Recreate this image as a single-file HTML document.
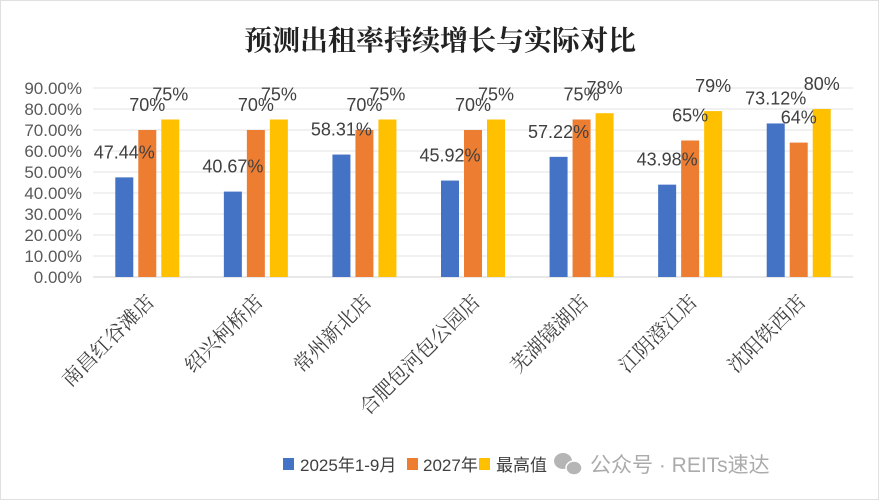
<!DOCTYPE html>
<html><head><meta charset="utf-8"><style>
body{margin:0;background:#fff;}
svg{display:block;font-family:"Liberation Sans","Noto Sans CJK SC",sans-serif;}
</style></head><body>
<svg id="c" width="879" height="500" viewBox="0 0 879 500">
<rect x="0.5" y="0.5" width="878" height="499" fill="#fff" stroke="#e0e0e0"/>
<text x="440" y="50" text-anchor="middle" font-size="28" font-weight="bold" fill="#222" style="font-family:'Noto Serif CJK SC','Noto Sans CJK SC',serif">预测出租率持续增长与实际对比</text>
<g id="grid"></g><g id="bars"></g><g id="labels"></g>
<g font-size="17" fill="#404040">
<rect x="283" y="458" width="11" height="12" fill="#4472c4"/>
<text x="300" y="471">2025年1-9月</text>
<rect x="407" y="458" width="11" height="12" fill="#ed7d31"/>
<text x="423" y="471">2027年</text>
<rect x="479" y="458" width="11" height="12" fill="#ffc000"/>
<text x="496" y="471">最高值</text>
</g>
<g>
<ellipse cx="563" cy="461" rx="9" ry="8" fill="#b5b5b5"/>
<ellipse cx="574" cy="468" rx="8" ry="7" fill="#b5b5b5" stroke="#fff" stroke-width="1.5"/>
<text x="590" y="472" font-size="21" fill="#ababab">公众号 · REITs速达</text>
</g>
</svg>
<script>
const categories=["南昌红谷滩店","绍兴柯桥店","常州新北店","合肥包河包公园店","芜湖镜湖店","江阴澄江店","沈阳铁西店"];
const actual2025=[47.44,40.67,58.31,45.92,57.22,43.98,73.12];
const forecast2027=[70,70,70,70,75,65,64];
const maxValue=[75,75,75,75,78,79,80];
const ticks=[0,10,20,30,40,50,60,70,80,90];
const NS="http://www.w3.org/2000/svg";
const left=93,right=853,y0=277,y90=88;
const yS=v=>y0-(v/90)*(y0-y90);
const gw=(right-left)/categories.length;
const xC=i=>left+gw*(i+0.5);
function mk(tag,attrs,parent,txt){const e=document.createElementNS(NS,tag);for(const k in attrs)e.setAttribute(k,attrs[k]);if(txt!==undefined)e.textContent=txt;parent.appendChild(e);return e;}
const grid=document.getElementById('grid'),bars=document.getElementById('bars'),labels=document.getElementById('labels');
ticks.forEach(t=>{
  const l=mk('line',{x1:left,x2:right,y1:yS(t),y2:yS(t),stroke:t===0?'#d0d0d0':'#e3e3e3','stroke-width':1},grid);
  
  
  const tx=mk('text',{x:82,y:yS(t)+6,'text-anchor':'end','font-size':17,fill:'#595959'},grid,t.toFixed(2)+'%');
  
  
});
const series=[{d:actual2025,c:'#4472c4',off:-23,fmt:v=>v.toFixed(2)+'%',n:'2025'},{d:forecast2027,c:'#ed7d31',off:0,fmt:v=>v+'%',n:'2027'},{d:maxValue,c:'#ffc000',off:23,fmt:v=>v+'%',n:'max'}];
const bw=18;
categories.forEach((cat,i)=>{
  series.forEach(s=>{
    const v=s.d[i],cx=xC(i)+s.off;
    const r=mk('rect',{x:cx-bw/2,y:yS(v),width:bw,height:y0-yS(v),fill:s.c},bars);
    
    
    const t=mk('text',{x:cx,y:yS(v)-19,'text-anchor':'middle','font-size':18,fill:'#404040'},labels,s.fmt(v));
    
    
  });
  const ct=mk('text',{x:0,y:0,'text-anchor':'end','font-size':20,fill:'#404040',transform:`translate(${xC(i)+8},303) rotate(-45)`,style:"font-family:'Noto Serif CJK SC','Noto Sans CJK SC',serif"},labels,cat);
  
  
});
</script>
</body></html>
